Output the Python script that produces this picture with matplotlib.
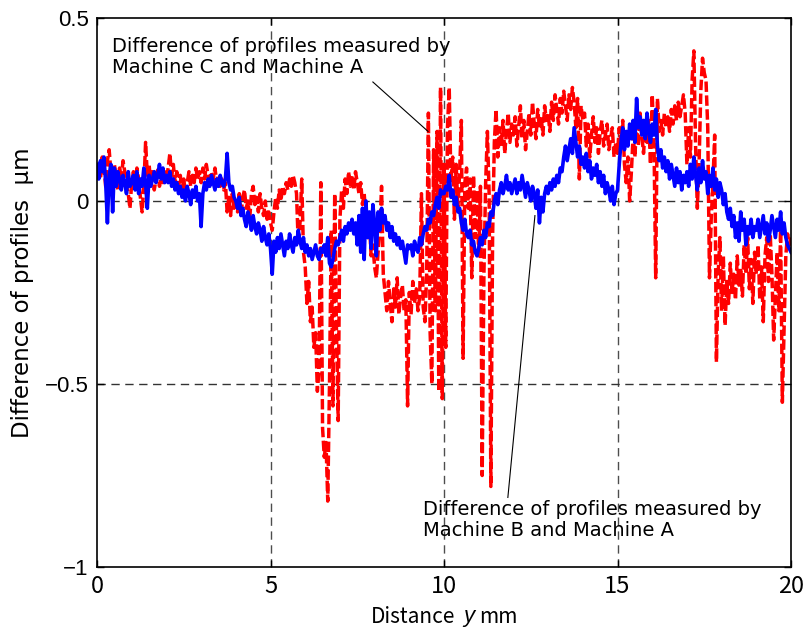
import numpy as np
import matplotlib
matplotlib.use("Agg")
import matplotlib.pyplot as plt

plt.rcParams['font.family'] = ['Liberation Sans', 'DejaVu Sans']

X_FONT = 'Noto Sans CJK JP'

# sampling step along the profile, mm
STEP = 0.05

# profile difference, machine C minus machine A (um), one row per mm
diff_c_a = [
    0.07, 0.10, 0.06, 0.12, 0.09, 0.04, 0.11, 0.14, 0.08, 0.05, 0.10, 0.07, 0.03, 0.09, 0.06, 0.11, 0.08, 0.04, 0.02, -0.02,
    0.05, 0.08, 0.03, 0.09, 0.06, 0.01, -0.03, 0.04, 0.16, 0.07, 0.10, 0.05, 0.08, 0.03, 0.06, 0.09, 0.04, 0.07, 0.05, 0.08,
    0.06, 0.09, 0.13, 0.07, 0.10, 0.05, 0.08, 0.04, 0.07, 0.03, 0.06, 0.02, 0.05, 0.08, 0.04, 0.07, 0.05, 0.09, 0.06, 0.08,
    0.05, 0.09, 0.06, 0.10, 0.07, 0.04, 0.08, 0.06, 0.09, 0.05, 0.07, 0.04, 0.06, 0.03, 0.05, -0.03, 0.01, -0.04, 0.02, -0.02,
    0.00, -0.03, 0.02, -0.04, 0.01, 0.03, -0.02, 0.00, -0.05, 0.02, 0.04, -0.01, 0.01, -0.03, 0.02, -0.02, -0.04, 0.00, -0.05, -0.03,
    -0.06, -0.08, -0.03, 0.01, -0.02, 0.03, 0.00, 0.04, 0.02, 0.05, 0.03, 0.06, 0.04, 0.07, 0.05, 0.02, -0.12, -0.06, 0.06, -0.14,
    -0.18, -0.28, -0.22, -0.33, -0.29, -0.40, -0.36, -0.52, -0.46, 0.05, -0.62, -0.70, -0.66, -0.82, -0.50, -0.08, -0.56, 0.02, -0.35, -0.60,
    -0.05, 0.03, -0.02, 0.06, 0.02, 0.08, 0.04, 0.07, 0.03, 0.08, 0.05, 0.02, 0.05, -0.01, 0.02, -0.05, -0.10, -0.06, -0.15, -0.12,
    -0.18, -0.21, -0.14, -0.08, 0.04, -0.20, -0.25, -0.30, -0.22, -0.28, -0.33, -0.24, -0.29, -0.21, -0.31, -0.26, -0.23, -0.30, -0.27, -0.56,
    -0.25, -0.31, -0.22, -0.28, -0.24, -0.30, -0.26, 0.02, -0.29, -0.33, -0.20, 0.24, -0.36, -0.50, 0.14, -0.30, 0.19, -0.52, 0.31, -0.54,
    0.10, -0.40, 0.20, 0.31, 0.05, 0.12, -0.05, 0.10, -0.02, 0.08, 0.22, -0.43, 0.05, 0.09, -0.02, 0.06, -0.21, 0.07, -0.10, 0.03,
    -0.15, 0.04, -0.75, -0.20, 0.05, 0.19, 0.02, -0.78, -0.10, 0.16, 0.25, 0.12, 0.20, 0.15, 0.22, 0.13, 0.19, 0.24, 0.16, 0.21,
    0.18, 0.23, 0.15, 0.20, 0.26, 0.17, 0.22, 0.14, 0.19, 0.24, 0.18, 0.27, 0.21, 0.17, 0.25, 0.20, 0.23, 0.18, 0.26, 0.22,
    0.24, 0.19, 0.27, 0.22, 0.29, 0.25, 0.21, 0.28, 0.24, 0.30, 0.26, 0.22, 0.29, 0.25, 0.31, 0.27, 0.20, 0.28, 0.06, 0.26,
    0.22, 0.24, 0.15, 0.21, 0.12, 0.18, 0.23, 0.16, 0.20, 0.13, 0.19, 0.22, 0.15, 0.18, 0.21, 0.14, 0.17, 0.20, 0.12, 0.16,
    0.13, 0.20, 0.16, 0.22, 0.10, 0.05, 0.12, 0.00, 0.08, 0.18, 0.12, 0.21, 0.15, 0.24, 0.18, 0.13, 0.20, 0.16, 0.22, 0.10,
    0.29, 0.17, -0.21, 0.28, 0.19, 0.22, 0.18, 0.24, 0.20, 0.23, 0.19, 0.25, 0.21, 0.26, 0.22, 0.27, 0.23, 0.26, 0.29, 0.24,
    0.10, 0.20, 0.12, 0.33, 0.41, 0.15, -0.02, 0.10, 0.30, 0.39, 0.35, 0.33, 0.20, -0.21, -0.05, 0.05, 0.18, -0.44, -0.20, -0.10,
    -0.30, -0.15, -0.34, -0.22, -0.28, -0.17, -0.25, -0.20, -0.27, -0.15, -0.23, -0.19, -0.26, -0.12, -0.20, -0.10, -0.24, -0.16, -0.28, -0.14,
    -0.20, -0.12, -0.27, -0.18, -0.33, -0.15, -0.10, -0.22, -0.09, -0.20, -0.38, -0.26, -0.14, -0.30, -0.08, -0.55, -0.35, -0.15, -0.09, -0.12,
    -0.10,
]

# profile difference, machine B minus machine A (um), one row per mm
diff_b_a = [
    0.10, 0.06, 0.11, 0.08, 0.12, 0.05, -0.06, 0.07, 0.10, -0.03, 0.09, 0.04, 0.08, 0.06, 0.03, 0.07, 0.05, 0.02, 0.08, 0.04,
    0.05, 0.07, 0.03, 0.08, 0.02, 0.06, 0.04, 0.09, 0.05, -0.02, 0.07, 0.04, 0.06, 0.08, 0.05, 0.07, 0.10, 0.06, 0.09, 0.05,
    0.07, 0.05, 0.08, 0.04, 0.06, 0.03, 0.05, 0.02, 0.04, 0.01, 0.03, 0.00, 0.04, 0.02, -0.01, 0.03, 0.01, 0.04, 0.00, 0.02,
    -0.07, 0.02, 0.05, 0.03, 0.06, 0.04, 0.07, 0.05, 0.03, 0.06, 0.04, 0.07, 0.05, 0.04, 0.06, 0.13, 0.05, 0.03, 0.04, 0.01,
    0.00, -0.02, 0.01, -0.04, -0.02, -0.05, -0.07, -0.03, -0.05, -0.08, -0.04, -0.07, -0.09, -0.06, -0.08, -0.11, -0.07, -0.10, -0.12, -0.09,
    -0.13, -0.20, -0.11, -0.14, -0.10, -0.13, -0.09, -0.12, -0.15, -0.11, -0.13, -0.09, -0.12, -0.14, -0.10, -0.12, -0.08, -0.11, -0.13, -0.10,
    -0.14, -0.12, -0.15, -0.13, -0.16, -0.14, -0.12, -0.15, -0.16, -0.13, -0.14, -0.12, -0.15, -0.10, -0.17, -0.18, -0.16, -0.13, -0.11, -0.12,
    -0.10, -0.08, -0.11, -0.07, -0.09, -0.06, -0.08, -0.05, -0.09, -0.06, -0.12, -0.04, -0.14, -0.02, -0.16, 0.00, -0.10, -0.03, -0.13, -0.01,
    -0.06, -0.15, -0.03, -0.08, -0.02, -0.06, -0.04, -0.08, -0.06, -0.10, -0.07, -0.11, -0.09, -0.12, -0.10, -0.13, -0.11, -0.14, -0.17, -0.12,
    -0.13, -0.12, -0.15, -0.11, -0.13, -0.14, -0.10, -0.12, -0.09, -0.07, -0.08, -0.05, -0.06, -0.03, -0.04, -0.01, 0.01, -0.02, 0.03, 0.02,
    0.02, 0.04, 0.03, 0.07, 0.01, 0.03, -0.01, 0.01, -0.03, -0.02, -0.06, -0.08, -0.05, -0.09, -0.10, -0.08, -0.12, -0.11, -0.14, -0.15,
    -0.13, -0.10, -0.12, -0.08, -0.10, -0.06, -0.07, -0.03, -0.04, 0.00, 0.02, -0.01, 0.03, 0.05, 0.02, 0.04, 0.07, 0.03, 0.05, 0.02,
    0.04, 0.06, 0.02, 0.05, 0.03, 0.07, 0.04, 0.01, 0.05, 0.03, 0.00, 0.04, 0.02, -0.02, 0.03, -0.06, 0.01, -0.03, 0.02, 0.04,
    0.02, 0.05, 0.03, 0.06, 0.04, 0.07, 0.05, 0.09, 0.08, 0.12, 0.15, 0.11, 0.14, 0.17, 0.13, 0.20, 0.16, 0.12, 0.15, 0.10,
    0.12, 0.09, 0.13, 0.08, 0.11, 0.06, 0.09, 0.07, 0.10, 0.05, 0.08, 0.04, 0.07, 0.02, 0.05, 0.03, 0.00, 0.04, -0.01, 0.02,
    0.03, 0.10, 0.16, 0.20, 0.14, 0.19, 0.15, 0.21, 0.17, 0.22, 0.16, 0.28, 0.20, 0.23, 0.18, 0.22, 0.17, 0.24, 0.19, 0.16,
    0.21, 0.18, 0.25, 0.15, 0.11, 0.14, 0.09, 0.12, 0.08, 0.11, 0.06, 0.10, 0.07, 0.04, 0.09, 0.05, 0.08, 0.03, 0.07, 0.05,
    0.08, 0.04, 0.10, 0.06, 0.12, 0.07, 0.03, 0.09, 0.05, 0.11, 0.06, 0.08, 0.02, 0.07, 0.04, 0.09, 0.03, 0.06, 0.01, 0.05,
    0.03, -0.01, 0.02, -0.03, -0.05, -0.02, -0.07, -0.04, -0.10, -0.06, -0.11, -0.03, -0.08, -0.05, -0.12, -0.07, -0.09, -0.05, -0.10, -0.07,
    -0.08, -0.05, -0.10, -0.07, -0.04, -0.09, -0.06, -0.11, -0.08, -0.04, -0.07, -0.10, -0.05, -0.08, -0.03, -0.09, -0.06, -0.10, -0.12, -0.13,
    -0.14,
]

x_ticks = [0, 5, 10, 15, 20]
y_ticks = [-1, -0.5, 0, 0.5]
y_tick_labels = ['\u22121', '\u22120.5', '0', '0.5']

label_c_a = 'Difference of profiles measured by\nMachine C and Machine A'
label_b_a = 'Difference of profiles measured by\nMachine B and Machine A'

# leader lines: (text end, curve end) in data units
leader_c_a = ([7.95, 9.54], [0.325, 0.19])
leader_b_a = ([11.84, 12.62], [-0.81, -0.04])

dist_c = np.arange(len(diff_c_a)) * STEP
dist_b = np.arange(len(diff_b_a)) * STEP

fig = plt.figure(figsize=(8.07, 6.34), dpi=100)
ax = fig.add_axes([0.1202, 0.1057, 0.86, 0.866])

ax.plot(dist_c, diff_c_a, color='#ff0000', lw=2.5, linestyle=(0, (3, 1)))
ax.plot(dist_b, diff_b_a, color='#0000ff', lw=2.6)

ax.set_xlim(0, 20)
ax.set_ylim(-1, 0.5)
ax.set_xticks(x_ticks)
ax.set_xticklabels([str(t) for t in x_ticks], family=[X_FONT, 'DejaVu Sans'], fontsize=17)
ax.set_yticks(y_ticks)
ax.set_yticklabels(y_tick_labels, fontsize=16)
ax.tick_params(direction='in', length=5, width=1, top=True, right=True, pad=6)

for xv in [5, 10, 15]:
    ax.axvline(xv, color='0.3', lw=1, linestyle=(0, (6, 4)), zorder=0)
for yv in [0, -0.5]:
    ax.axhline(yv, color='0.2', lw=1, linestyle=(0, (6, 4)), zorder=0)

for sp in ax.spines.values():
    sp.set_linewidth(1.2)

ax.set_ylabel('Difference of profiles  \u00b5m', family=['DejaVu Sans'], fontsize=16.5, labelpad=8)

# x label built from pieces so the variable can be set in italics
lab_y = -0.091
ax.text(0.516, lab_y, 'Distance', transform=ax.transAxes, family=[X_FONT, 'DejaVu Sans'],
        fontsize=15, ha='right', va='center')
ax.text(0.536, lab_y, 'y', transform=ax.transAxes, family=['Liberation Sans'],
        fontsize=16, style='italic', ha='center', va='center')
ax.text(0.551, lab_y, 'mm', transform=ax.transAxes, family=[X_FONT, 'DejaVu Sans'],
        fontsize=15, ha='left', va='center')

ax.plot(*leader_c_a, color='k', lw=0.8)
ax.plot(*leader_b_a, color='k', lw=0.8)
ax.text(0.43, 0.393, label_c_a, fontsize=14, family=['DejaVu Sans'],
        linespacing=1.15, ha='left', va='center')
ax.text(9.39, -0.872, label_b_a, fontsize=14, family=['DejaVu Sans'],
        linespacing=1.15, ha='left', va='center')

fig.savefig('out.png', dpi=100)
